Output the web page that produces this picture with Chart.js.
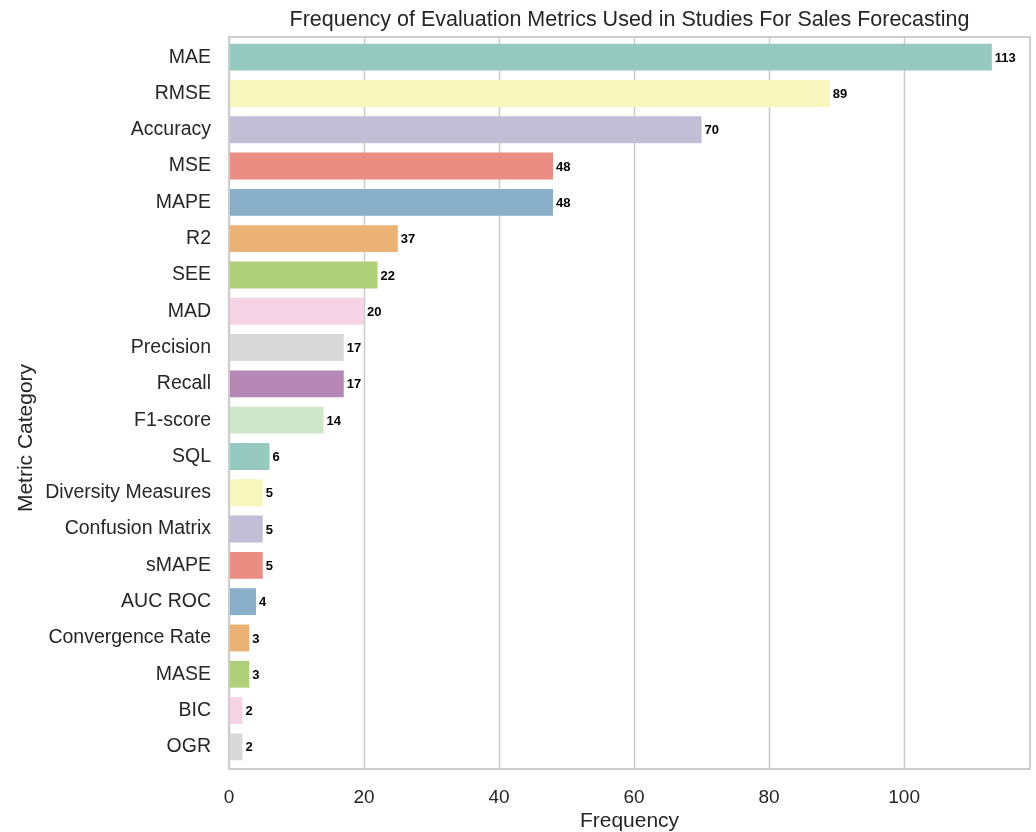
<!DOCTYPE html>
<html>
<head>
<meta charset="utf-8">
<title>Evaluation Metrics Frequency</title>
<script src="https://cdn.jsdelivr.net/npm/chart.js@4"></script>
<style>
  body { margin: 0; background: #ffffff; }
  canvas { display: block; }
</style>
</head>
<body>
<canvas id="metricChart" width="1036" height="832"></canvas>
<script>
// Categories, top to bottom
const categories = ['MAE', 'RMSE', 'Accuracy', 'MSE', 'MAPE', 'R2', 'SEE', 'MAD', 'Precision', 'Recall',
  'F1-score', 'SQL', 'Diversity Measures', 'Confusion Matrix', 'sMAPE', 'AUC ROC', 'Convergence Rate',
  'MASE', 'BIC', 'OGR'];

// Bar lengths as drawn
const frequencies = [113, 89, 70, 48, 48, 25, 22, 20, 17, 17, 14, 6, 5, 5, 5, 4, 3, 3, 2, 2];

// Text printed at the end of each bar (R2 is annotated 37 in the original)
const valueLabels = ['113', '89', '70', '48', '48', '37', '22', '20', '17', '17', '14', '6', '5', '5', '5', '4', '3', '3', '2', '2'];

// x axis ticks
const xTicks = [0, 20, 40, 60, 80, 100];
const xMax = 118.65;

// Set3 palette, desaturated like seaborn (cycles every 11 bars)
const palette = ['#96cac1', '#f6f6bd', '#c1bed6', '#ea8e83', '#8aafc9', '#eab375',
  '#afcf78', '#f6d3e5', '#d9d9d9', '#b588b5', '#cfe6ca'];
const barColors = categories.map((c, i) => palette[i % palette.length]);

const FONT = "'Liberation Sans', Arial, sans-serif";
const TEXT = '#262626';
const chartTitle = 'Frequency of Evaluation Metrics Used in Studies For Sales Forecasting';

// grid lines behind the bars, slightly taller than the data area like matplotlib
const gridPlugin = {
  id: 'gridLines',
  beforeDatasetsDraw(chart) {
    const { ctx, chartArea, scales } = chart;
    ctx.save();
    ctx.strokeStyle = '#cccccc';
    ctx.lineWidth = 1.5;
    xTicks.forEach(v => {
      const x = Math.round(scales.x.getPixelForValue(v)) + 0.5;
      ctx.beginPath();
      ctx.moveTo(x, chartArea.top - 2);
      ctx.lineTo(x, chartArea.bottom + 4);
      ctx.stroke();
    });
    ctx.restore();
  }
};

// frame, value labels, title centred on the plot, rotated y title
const decorPlugin = {
  id: 'decor',
  afterDatasetsDraw(chart) {
    const { ctx, chartArea } = chart;
    ctx.save();
    // value labels
    ctx.font = 'bold 13px ' + FONT;
    ctx.fillStyle = '#000000';
    ctx.textAlign = 'left';
    ctx.textBaseline = 'middle';
    chart.getDatasetMeta(0).data.forEach((bar, i) => {
      ctx.fillText(valueLabels[i], bar.x + 3, bar.y + 1);
    });
    // frame
    ctx.strokeStyle = '#cccccc';
    ctx.lineWidth = 2;
    ctx.strokeRect(chartArea.left, chartArea.top - 2, chartArea.right - chartArea.left, chartArea.bottom - chartArea.top + 6);
    // title
    ctx.fillStyle = TEXT;
    ctx.font = '21.5px ' + FONT;
    ctx.textAlign = 'center';
    ctx.fillText(chartTitle, (chartArea.left + chartArea.right) / 2, 20.5);
    // y axis title
    ctx.font = '21px ' + FONT;
    ctx.translate(26, 438);
    ctx.rotate(-Math.PI / 2);
    ctx.fillText('Metric Category', 0, 0);
    ctx.restore();
  }
};

new Chart(document.getElementById('metricChart'), {
  type: 'bar',
  data: {
    labels: categories,
    datasets: [{
      label: 'Frequency',
      data: frequencies,
      backgroundColor: barColors,
      borderWidth: 0,
      barPercentage: 0.74,
      categoryPercentage: 1.0
    }]
  },
  options: {
    indexAxis: 'y',
    responsive: false,
    animation: false,
    layout: { padding: { left: 0, right: 6, top: 39, bottom: 0 } },
    plugins: {
      legend: { display: false },
      tooltip: { enabled: false },
      title: { display: false }
    },
    scales: {
      x: {
        min: 0,
        max: xMax,
        afterBuildTicks: scale => { scale.ticks = xTicks.map(v => ({ value: v })); },
        afterFit: scale => { scale.height = 67; },
        grid: { display: false, drawTicks: false },
        border: { display: false },
        ticks: { color: TEXT, font: { family: FONT, size: 19 }, padding: 21 },
        title: {
          display: true,
          text: 'Frequency',
          color: TEXT,
          font: { family: FONT, size: 21 },
          padding: { top: 0, bottom: -2 }
        }
      },
      y: {
        afterFit: scale => { scale.width = 229; },
        grid: { display: false, drawTicks: false },
        border: { display: false },
        ticks: { color: TEXT, font: { family: FONT, size: 19.5 }, padding: 18, autoSkip: false }
      }
    }
  },
  plugins: [gridPlugin, decorPlugin]
});
</script>
</body>
</html>
